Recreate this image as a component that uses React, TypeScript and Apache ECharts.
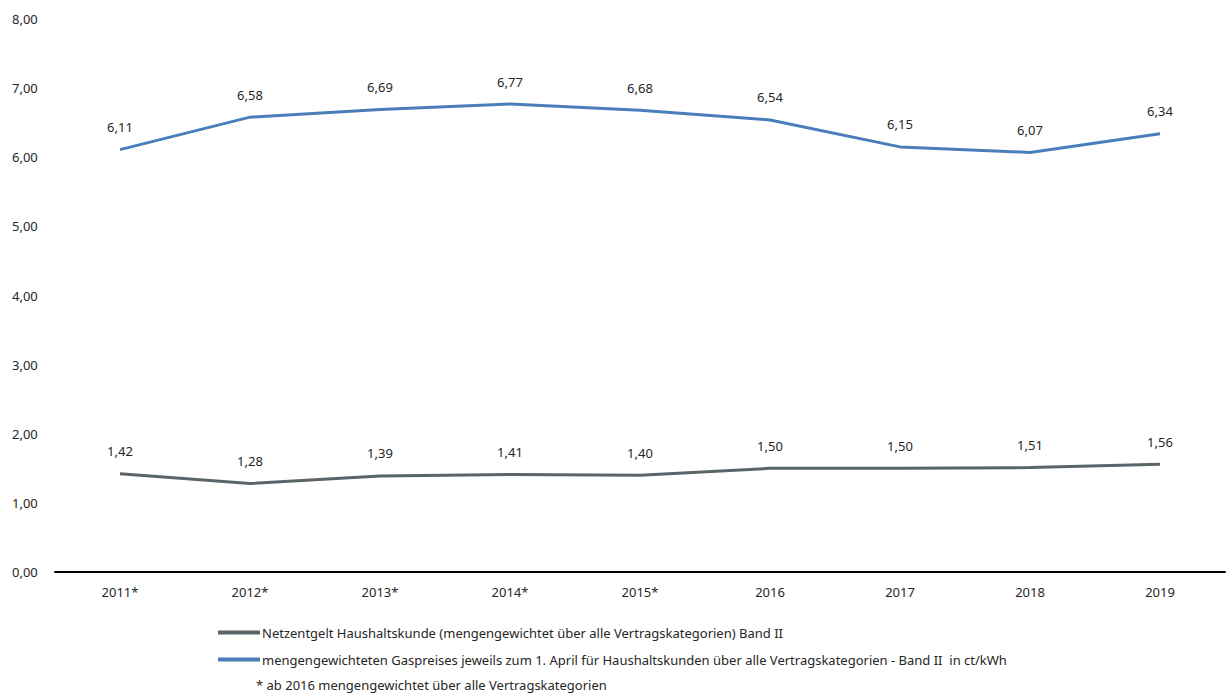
import React, { useEffect, useRef } from "react";
import * as echarts from "echarts";

const categories = ["2011*", "2012*", "2013*", "2014*", "2015*", "2016", "2017", "2018", "2019"];
const netzentgelt = [1.42, 1.28, 1.39, 1.41, 1.4, 1.5, 1.5, 1.51, 1.56];
const gaspreis = [6.11, 6.58, 6.69, 6.77, 6.68, 6.54, 6.15, 6.07, 6.34];
const seriesNames = [
  "Netzentgelt Haushaltskunde (mengengewichtet über alle Vertragskategorien) Band II",
  "mengengewichteten Gaspreises jeweils zum 1. April für Haushaltskunden über alle Vertragskategorien - Band II  in ct/kWh",
];
const footnote = "* ab 2016 mengengewichtet über alle Vertragskategorien";

const FONT = "'Noto Sans', sans-serif";
const TEXT = "#262626";

const fmt = (v: number) => v.toFixed(2).replace(".", ",");

export default function App() {
  const ref = useRef<HTMLDivElement>(null);
  useEffect(() => {
    const chart = echarts.init(ref.current!, undefined, { renderer: "svg" });
    const label = {
      show: true,
      position: "top" as const,
      distance: 16,
      color: TEXT,
      fontSize: 13,
      fontFamily: FONT,
      formatter: (p: any) => fmt(p.value),
    };
    chart.setOption({
      animation: false,
      textStyle: { fontFamily: FONT },
      grid: { left: 55, right: 4, top: 19, bottom: 123, containLabel: false },
      xAxis: {
        type: "category",
        data: categories,
        boundaryGap: true,
        axisLine: { show: true, lineStyle: { color: "#000", width: 2 } },
        axisTick: { show: false },
        axisLabel: { color: TEXT, fontSize: 13, fontFamily: FONT, margin: 13 },
      },
      yAxis: {
        type: "value",
        min: 0,
        max: 8,
        interval: 1,
        axisLine: { show: false },
        axisTick: { show: false },
        splitLine: { show: false },
        axisLabel: {
          color: TEXT,
          fontSize: 13,
          fontFamily: FONT,
          align: "left",
          margin: 43,
          formatter: (v: number) => fmt(v),
        },
      },
      legend: {
        orient: "vertical",
        left: 213,
        top: 621,
        itemWidth: 42,
        itemHeight: 4,
        itemGap: 14,
        icon: "rect",
        textStyle: { color: TEXT, fontSize: 13, fontFamily: FONT, padding: [0, 0, 0, -3] },
        data: seriesNames,
      },
      graphic: [
        {
          type: "text",
          left: 256,
          top: 678,
          style: { text: footnote, fill: TEXT, fontSize: 13, fontFamily: FONT },
        },
      ],
      series: [
        {
          name: seriesNames[0],
          type: "line",
          data: netzentgelt,
          symbol: "circle",
          symbolSize: 0,
          lineStyle: { color: "#5a6469", width: 3 },
          itemStyle: { color: "#5a6469" },
          label,
        },
        {
          name: seriesNames[1],
          type: "line",
          data: gaspreis,
          symbol: "circle",
          symbolSize: 0,
          lineStyle: { color: "#4a7ebb", width: 3 },
          itemStyle: { color: "#4a7ebb" },
          label,
        },
      ],
    });
    return () => chart.dispose();
  }, []);
  return <div ref={ref} style={{ width: 1229, height: 695, position: "absolute", left: 0, top: 0 }} />;
}
